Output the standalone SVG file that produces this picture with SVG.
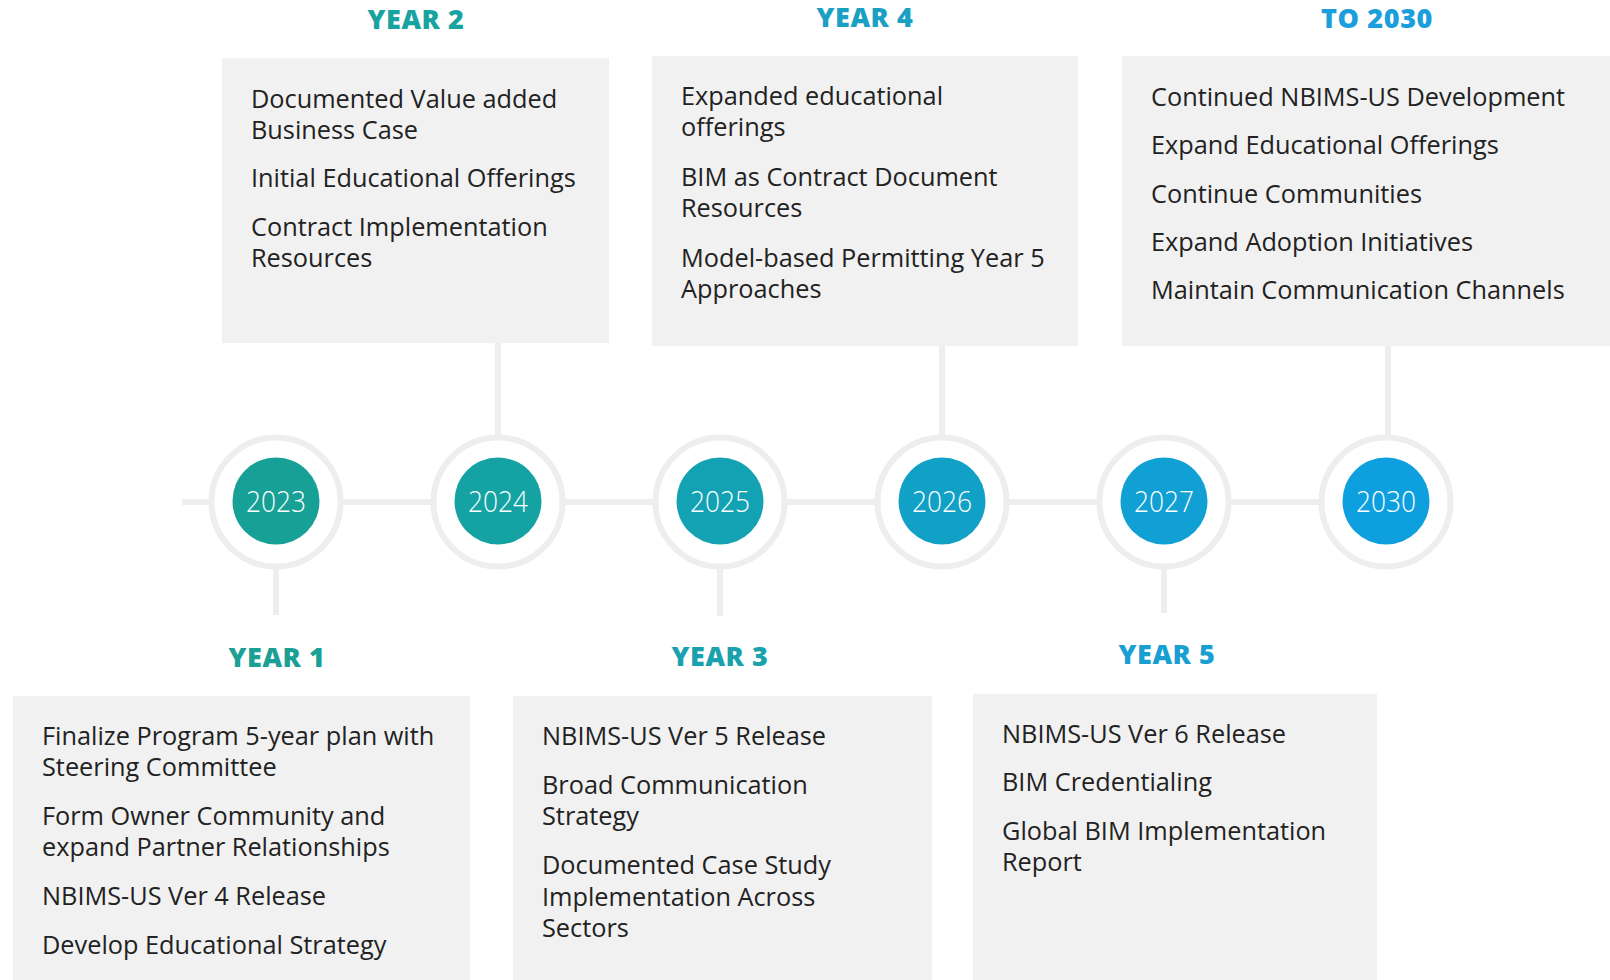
<svg xmlns="http://www.w3.org/2000/svg" width="1610" height="980" viewBox="0 0 1610 980">
<style>
.box{fill:#f1f1f1}
.ring{fill:#ffffff;stroke:#eeeeee;stroke-width:6}
.conn{stroke:#eeeeee;stroke-width:6;fill:none}
.yr{font-family:"Open Sans","Liberation Sans",sans-serif;font-weight:300;font-size:30px;fill:#ffffff;text-anchor:middle}
.hd{font-family:"Open Sans","Liberation Sans",sans-serif;font-weight:800;font-size:27px;letter-spacing:0.6px;text-anchor:middle}
.tx{font-family:"Open Sans","Liberation Sans",sans-serif;font-size:25.3px;fill:#222222}
</style>
<rect width="1610" height="980" fill="#ffffff"/>
<g id="connectors">
<line class="conn" x1="182" y1="502" x2="1320" y2="502"/>
<line class="conn" x1="276" y1="566" x2="276" y2="615"/>
<line class="conn" x1="498" y1="343" x2="498" y2="438"/>
<line class="conn" x1="720" y1="566" x2="720" y2="616"/>
<line class="conn" x1="942" y1="346" x2="942" y2="438"/>
<line class="conn" x1="1164" y1="566" x2="1164" y2="613"/>
<line class="conn" x1="1388" y1="346" x2="1388" y2="438"/>
</g>
<g id="n2023">
<circle class="ring" cx="276" cy="502" r="64.5"/>
<circle cx="276" cy="501" r="43.5" fill="#16a096"/>
<text class="yr" x="276" y="512" textLength="60" lengthAdjust="spacingAndGlyphs">2023</text>
</g>
<g id="n2024">
<circle class="ring" cx="498" cy="502" r="64.5"/>
<circle cx="498" cy="501" r="43.5" fill="#14a2a2"/>
<text class="yr" x="498" y="512" textLength="60" lengthAdjust="spacingAndGlyphs">2024</text>
</g>
<g id="n2025">
<circle class="ring" cx="720" cy="502" r="64.5"/>
<circle cx="720" cy="501" r="43.5" fill="#13a2b4"/>
<text class="yr" x="720" y="512" textLength="60" lengthAdjust="spacingAndGlyphs">2025</text>
</g>
<g id="n2026">
<circle class="ring" cx="942" cy="502" r="64.5"/>
<circle cx="942" cy="501" r="43.5" fill="#12a1c6"/>
<text class="yr" x="942" y="512" textLength="60" lengthAdjust="spacingAndGlyphs">2026</text>
</g>
<g id="n2027">
<circle class="ring" cx="1164" cy="502" r="64.5"/>
<circle cx="1164" cy="501" r="43.5" fill="#10a0d4"/>
<text class="yr" x="1164" y="512" textLength="60" lengthAdjust="spacingAndGlyphs">2027</text>
</g>
<g id="n2030">
<circle class="ring" cx="1386" cy="502" r="64.5"/>
<circle cx="1386" cy="501" r="43.5" fill="#0e9fdf"/>
<text class="yr" x="1386" y="512" textLength="60" lengthAdjust="spacingAndGlyphs">2030</text>
</g>
<g id="year2">
<text class="hd" x="416" y="29" fill="#19a3a0">YEAR 2</text>
<rect class="box" x="222" y="58" width="387" height="285"/>
<text class="tx" x="251" y="108">Documented Value added</text>
<text class="tx" x="251" y="139">Business Case</text>
<text class="tx" x="251" y="187">Initial Educational Offerings</text>
<text class="tx" x="251" y="236">Contract Implementation</text>
<text class="tx" x="251" y="267">Resources</text>
</g>
<g id="year4">
<text class="hd" x="865" y="27" fill="#1aa0c2">YEAR 4</text>
<rect class="box" x="652" y="56" width="426" height="290"/>
<text class="tx" x="681" y="105">Expanded educational</text>
<text class="tx" x="681" y="136">offerings</text>
<text class="tx" x="681" y="186">BIM as Contract Document</text>
<text class="tx" x="681" y="217">Resources</text>
<text class="tx" x="681" y="267">Model-based Permitting Year 5</text>
<text class="tx" x="681" y="298">Approaches</text>
</g>
<g id="to2030">
<text class="hd" x="1377" y="28" fill="#1a9fdc">TO 2030</text>
<rect class="box" x="1122" y="56" width="488" height="290"/>
<text class="tx" x="1151" y="106">Continued NBIMS-US Development</text>
<text class="tx" x="1151" y="154">Expand Educational Offerings</text>
<text class="tx" x="1151" y="203">Continue Communities</text>
<text class="tx" x="1151" y="251">Expand Adoption Initiatives</text>
<text class="tx" x="1151" y="299">Maintain Communication Channels</text>
</g>
<g id="year1">
<text class="hd" x="277" y="667" fill="#1aa095">YEAR 1</text>
<rect class="box" x="13" y="696" width="457" height="284"/>
<text class="tx" x="42" y="745">Finalize Program 5-year plan with</text>
<text class="tx" x="42" y="776">Steering Committee</text>
<text class="tx" x="42" y="825">Form Owner Community and</text>
<text class="tx" x="42" y="856">expand Partner Relationships</text>
<text class="tx" x="42" y="905">NBIMS-US Ver 4 Release</text>
<text class="tx" x="42" y="954">Develop Educational Strategy</text>
</g>
<g id="year3">
<text class="hd" x="720" y="666" fill="#1aa1ae">YEAR 3</text>
<rect class="box" x="513" y="696" width="419" height="284"/>
<text class="tx" x="542" y="745">NBIMS-US Ver 5 Release</text>
<text class="tx" x="542" y="794">Broad Communication</text>
<text class="tx" x="542" y="825">Strategy</text>
<text class="tx" x="542" y="874">Documented Case Study</text>
<text class="tx" x="542" y="906">Implementation Across</text>
<text class="tx" x="542" y="937">Sectors</text>
</g>
<g id="year5">
<text class="hd" x="1167" y="664" fill="#1a9fd2">YEAR 5</text>
<rect class="box" x="973" y="694" width="404" height="286"/>
<text class="tx" x="1002" y="743">NBIMS-US Ver 6 Release</text>
<text class="tx" x="1002" y="791">BIM Credentialing</text>
<text class="tx" x="1002" y="840">Global BIM Implementation</text>
<text class="tx" x="1002" y="871">Report</text>
</g>
</svg>
